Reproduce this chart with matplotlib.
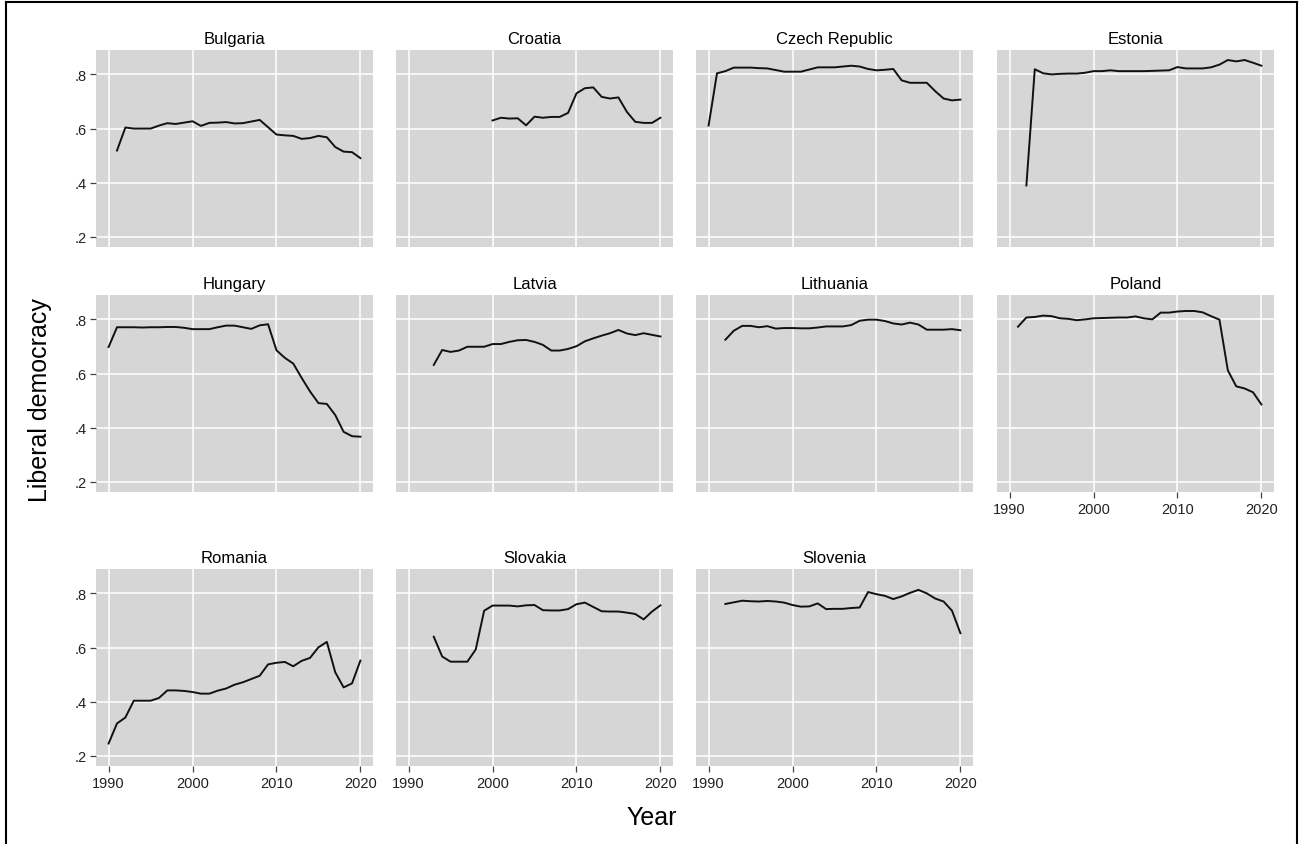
import matplotlib
matplotlib.use("Agg")
from matplotlib import pyplot as plt
from matplotlib.lines import Line2D

plt.rcParams['font.family'] = ['Liberation Sans', 'DejaVu Sans']

countries = ["Bulgaria", "Croatia", "Czech Republic", "Estonia",
             "Hungary", "Latvia", "Lithuania", "Poland",
             "Romania", "Slovakia", "Slovenia"]

# first year of each series
start_year = [1991, 2000, 1990, 1992,
              1990, 1993, 1992, 1991,
              1990, 1993, 1992]

bulgaria = [0.519, 0.604, 0.600, 0.600, 0.600, 0.611, 0.620, 0.617, 0.622, 0.627,
            0.610, 0.621, 0.622, 0.624, 0.619, 0.620, 0.626, 0.632, 0.605, 0.578,
            0.575, 0.573, 0.562, 0.565, 0.573, 0.568, 0.532, 0.515, 0.513, 0.491]
croatia = [0.630, 0.640, 0.637, 0.638, 0.612, 0.644, 0.640, 0.643, 0.643, 0.658,
           0.730, 0.749, 0.752, 0.717, 0.711, 0.715, 0.662, 0.625, 0.621, 0.621,
           0.640]
czech = [0.611, 0.804, 0.812, 0.825, 0.825, 0.825, 0.823, 0.822, 0.816, 0.810,
         0.810, 0.810, 0.818, 0.826, 0.826, 0.826, 0.829, 0.832, 0.829, 0.820,
         0.815, 0.817, 0.820, 0.778, 0.769, 0.769, 0.769, 0.738, 0.711, 0.704,
         0.707]
estonia = [0.390, 0.819, 0.804, 0.800, 0.802, 0.803, 0.803, 0.806, 0.812, 0.812,
           0.815, 0.812, 0.812, 0.812, 0.812, 0.813, 0.814, 0.815, 0.827, 0.822,
           0.822, 0.822, 0.826, 0.836, 0.853, 0.848, 0.853, 0.843, 0.832]
hungary = [0.698, 0.771, 0.771, 0.771, 0.770, 0.771, 0.771, 0.772, 0.772, 0.769,
           0.764, 0.764, 0.764, 0.771, 0.777, 0.777, 0.771, 0.765, 0.778, 0.782,
           0.686, 0.658, 0.637, 0.584, 0.534, 0.491, 0.488, 0.447, 0.385, 0.369,
           0.367]
latvia = [0.632, 0.687, 0.680, 0.685, 0.699, 0.699, 0.699, 0.709, 0.709, 0.717,
          0.723, 0.724, 0.717, 0.706, 0.685, 0.685, 0.691, 0.701, 0.719, 0.730,
          0.740, 0.749, 0.761, 0.748, 0.742, 0.749, 0.743, 0.737]
lithuania = [0.725, 0.758, 0.776, 0.776, 0.771, 0.775, 0.766, 0.768, 0.768, 0.767,
             0.767, 0.770, 0.774, 0.774, 0.774, 0.779, 0.795, 0.799, 0.799, 0.794,
             0.785, 0.781, 0.788, 0.781, 0.762, 0.762, 0.762, 0.764, 0.760]
poland = [0.773, 0.807, 0.809, 0.814, 0.812, 0.804, 0.802, 0.797, 0.800, 0.804,
          0.805, 0.806, 0.807, 0.807, 0.811, 0.804, 0.800, 0.825, 0.825, 0.829,
          0.831, 0.831, 0.826, 0.812, 0.799, 0.612, 0.553, 0.545, 0.531, 0.486]
romania = [0.246, 0.320, 0.342, 0.404, 0.404, 0.404, 0.414, 0.442, 0.442, 0.440,
           0.436, 0.430, 0.430, 0.441, 0.449, 0.463, 0.472, 0.484, 0.496, 0.538,
           0.544, 0.547, 0.531, 0.551, 0.562, 0.601, 0.621, 0.509, 0.453, 0.468,
           0.552]
slovakia = [0.640, 0.567, 0.548, 0.548, 0.548, 0.593, 0.736, 0.755, 0.755, 0.755,
            0.752, 0.756, 0.757, 0.738, 0.737, 0.737, 0.742, 0.760, 0.766, 0.750,
            0.734, 0.733, 0.733, 0.729, 0.724, 0.704, 0.733, 0.756]
slovenia = [0.761, 0.767, 0.773, 0.771, 0.770, 0.772, 0.770, 0.766, 0.757, 0.751,
            0.752, 0.763, 0.742, 0.743, 0.743, 0.746, 0.748, 0.805, 0.797, 0.791,
            0.779, 0.789, 0.802, 0.813, 0.800, 0.781, 0.770, 0.736, 0.653]

series = [bulgaria, croatia, czech, estonia, hungary, latvia, lithuania, poland,
          romania, slovakia, slovenia]

x_ticks = [1990, 2000, 2010, 2020]
y_ticks = [0.2, 0.4, 0.6, 0.8]
y_ticklabels = [".2", ".4", ".6", ".8"]

W, H = 1301, 845
fig = plt.figure(figsize=(W / 100, H / 100), dpi=100)

col_left = [96, 396, 696, 997]
row_top = [51, 296, 570]
pw, ph = 277, 197

for i, name in enumerate(countries):
    r, c = i // 4, i % 4
    ax = fig.add_axes([col_left[c] / W, 1 - (row_top[r] + ph) / H, pw / W, ph / H])
    ax.set_facecolor('#d6d6d6')
    yrs = list(range(start_year[i], start_year[i] + len(series[i])))
    ax.plot(yrs, series[i], color='#111111', lw=1.4)
    ax.set_xlim(1988.5, 2021.5)
    ax.set_ylim(0.163, 0.89)
    ax.set_xticks(x_ticks)
    ax.set_yticks(y_ticks)
    ax.grid(True, color='white', lw=1.1)
    ax.set_axisbelow(True)
    for s in ax.spines.values():
        s.set_visible(False)
    ax.set_title(name, fontsize=12, color='black', pad=5)
    ax.tick_params(colors='#444444', labelcolor='#222222', labelsize=10.5,
                   length=4, width=0.9, pad=3)
    if c == 0:
        ax.set_yticklabels(y_ticklabels)
    else:
        ax.tick_params(axis='y', left=False, labelleft=False)
    if r == 2 or name == "Poland":
        ax.set_xticklabels([str(t) for t in x_ticks])
    else:
        ax.tick_params(axis='x', bottom=False, labelbottom=False)

fig.text(40 / W, 1 - 400 / H, "Liberal democracy", rotation=90, fontsize=18,
         ha='center', va='center')
fig.text(652 / W, 1 - 818 / H, "Year", fontsize=18, ha='center', va='center')

# frame around the figure
fig.add_artist(Line2D([6 / W, 6 / W], [0, 1 - 3 / H], color='black', lw=1.5))
fig.add_artist(Line2D([6 / W, 1297 / W], [1 - 3 / H, 1 - 3 / H], color='black', lw=1.5))
fig.add_artist(Line2D([1297 / W, 1297 / W], [0, 1 - 3 / H], color='black', lw=1.5))

fig.savefig("out.png", dpi=100)
